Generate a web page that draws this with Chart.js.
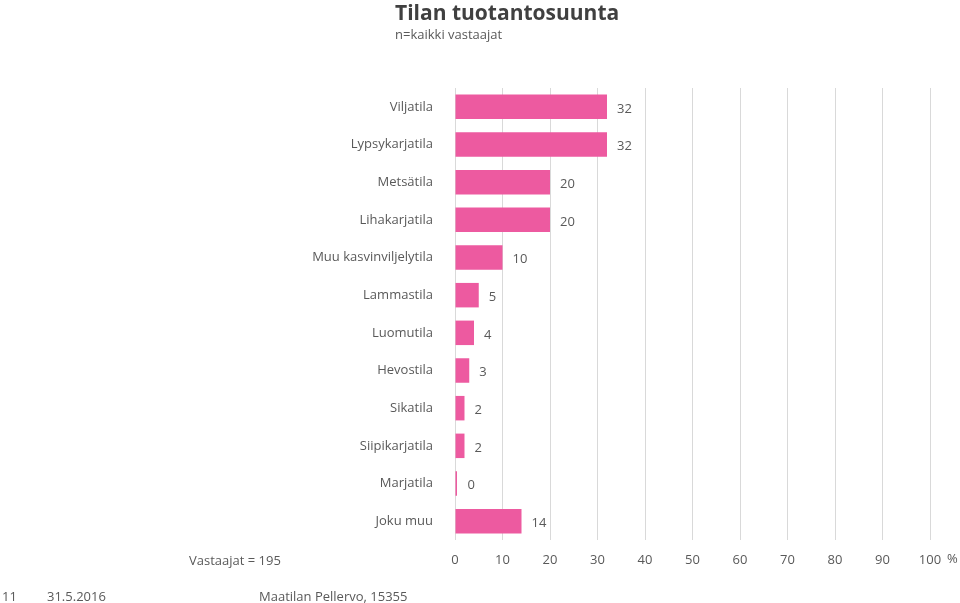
<!DOCTYPE html>
<html>
<head>
<meta charset="utf-8">
<script src="https://cdn.jsdelivr.net/npm/chart.js@4"></script>
<style>
  body { margin: 0; background: #fff; font-family: "Open Sans", sans-serif; }
  #wrap { position: relative; width: 960px; height: 603px; }
  .txt { position: absolute; color: #595959; font-size: 13px; white-space: nowrap; }
</style>
</head>
<body>
<div id="wrap">
  <canvas id="c" width="960" height="603"></canvas>
  <div class="txt" style="left:395px;top:-2px;font-size:21px;font-weight:bold;color:#404040">Tilan tuotantosuunta</div>
  <div class="txt" style="left:395px;top:25px;font-size:13px">n=kaikki vastaajat</div>
  <div class="txt" style="left:189px;top:551px">Vastaajat = 195</div>
  <div class="txt" style="left:947px;top:549px">%</div>
  <div class="txt" style="left:2px;top:587px">11</div>
  <div class="txt" style="left:47px;top:587px">31.5.2016</div>
  <div class="txt" style="left:259px;top:587px">Maatilan Pellervo, 15355</div>
</div>
<script>
const categories = ['Viljatila', 'Lypsykarjatila', 'Metsätila', 'Lihakarjatila', 'Muu kasvinviljelytila',
  'Lammastila', 'Luomutila', 'Hevostila', 'Sikatila', 'Siipikarjatila', 'Marjatila', 'Joku muu'];
const values = [32, 32, 20, 20, 10, 5, 4, 3, 2, 2, 0, 14];
const xTicks = [0, 10, 20, 30, 40, 50, 60, 70, 80, 90, 100];

// arvot palkkien perään
const valueLabels = {
  id: 'valueLabels',
  afterDatasetsDraw(chart) {
    const ctx = chart.ctx;
    const meta = chart.getDatasetMeta(0);
    ctx.save();
    ctx.font = '13px "Open Sans"';
    ctx.fillStyle = '#595959';
    ctx.textBaseline = 'middle';
    meta.data.forEach((bar, i) => {
      ctx.fillText(values[i], Math.max(bar.x, bar.base + 2) + 10, bar.y + 2);
    });
    ctx.restore();
  }
};

new Chart(document.getElementById('c'), {
  type: 'bar',
  data: {
    labels: categories,
    datasets: [{
      data: values,
      backgroundColor: '#ed5aa0',
      barPercentage: 0.65,
      categoryPercentage: 1,
      minBarLength: 2
    }]
  },
  options: {
    indexAxis: 'y',
    responsive: false,
    animation: false,
    layout: { padding: { top: 88, right: 30, left: 0, bottom: 0 } },
    plugins: { legend: { display: false }, tooltip: { enabled: false } },
    scales: {
      x: {
        min: 0, max: 100,
        afterBuildTicks: s => { s.ticks = xTicks.map(v => ({ value: v })); },
        grid: { color: '#d9d9d9', drawTicks: false },
        border: { display: false },
        ticks: { color: '#595959', font: { family: 'Open Sans', size: 13 }, padding: 12 },
        afterFit: s => { s.height = 63; }
      },
      y: {
        grid: { display: false },
        border: { display: false },
        ticks: { color: '#595959', font: { family: 'Open Sans', size: 13 }, padding: 14 },
        afterFit: s => { s.width = 455; }
      }
    }
  },
  plugins: [valueLabels]
});
</script>
</body>
</html>
